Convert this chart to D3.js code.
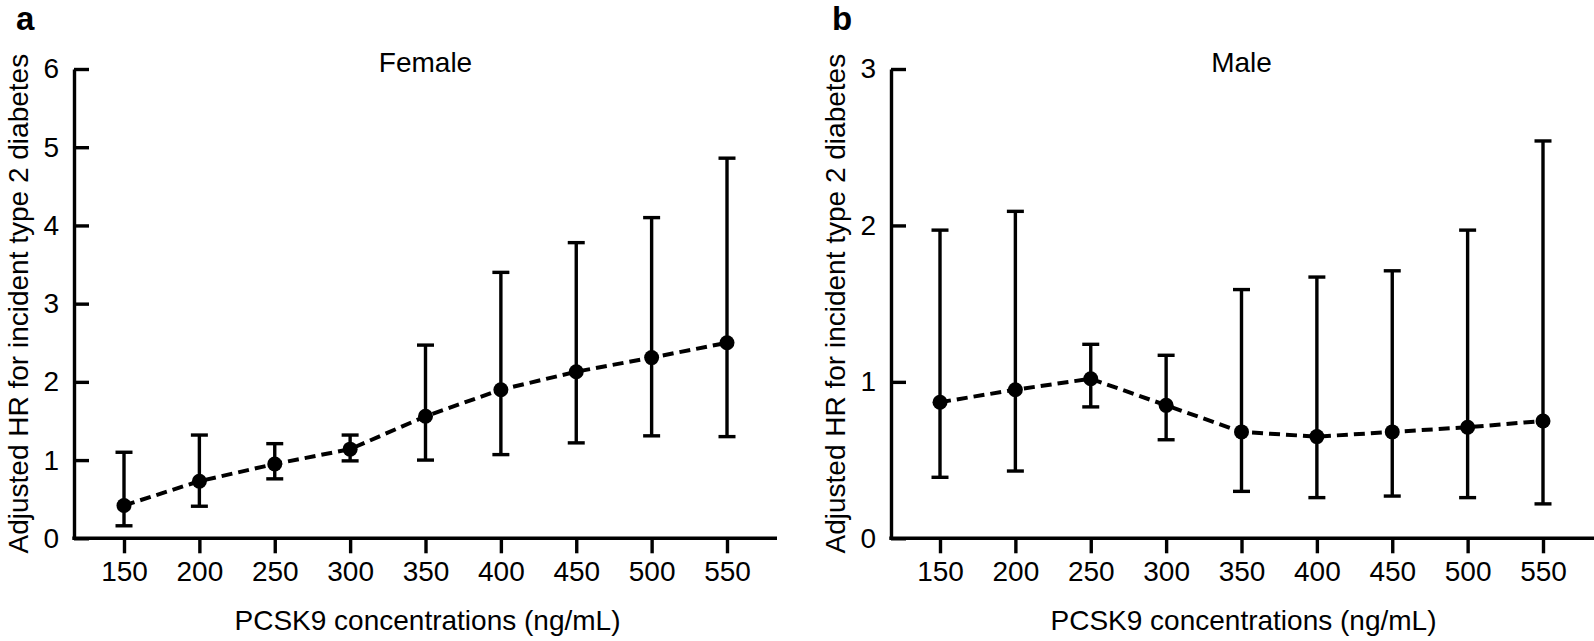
<!DOCTYPE html>
<html>
<head>
<meta charset="utf-8">
<script src="https://cdn.jsdelivr.net/npm/d3@7"></script>
<style>
  html, body { margin: 0; padding: 0; background: #fff; }
  svg { display: block; font-family: "Liberation Sans", Arial, Helvetica, sans-serif; }
</style>
</head>
<body>
<svg id="chart" width="1594" height="641"></svg>
<script>
// ---- data ----
const concentrations = [150, 200, 250, 300, 350, 400, 450, 500, 550];
const xTickLabels = ["150", "200", "250", "300", "350", "400", "450", "500", "550"];

const femaleHR    = [0.42, 0.73, 0.95, 1.14, 1.56, 1.90, 2.13, 2.31, 2.50];
const femaleLower = [0.16, 0.41, 0.76, 0.99, 1.00, 1.07, 1.22, 1.31, 1.30];
const femaleUpper = [1.10, 1.32, 1.21, 1.32, 2.47, 3.40, 3.78, 4.10, 4.86];
const femaleYTicks = [0, 1, 2, 3, 4, 5, 6];

const maleHR    = [0.87, 0.95, 1.02, 0.85, 0.68, 0.65, 0.68, 0.71, 0.75];
const maleLower = [0.39, 0.43, 0.84, 0.63, 0.30, 0.26, 0.27, 0.26, 0.22];
const maleUpper = [1.97, 2.09, 1.24, 1.17, 1.59, 1.67, 1.71, 1.97, 2.54];
const maleYTicks = [0, 1, 2, 3];

const panelLetters = ["a", "b"];
const panelTitles = ["Female", "Male"];
const yTitle = "Adjusted HR for incident type 2 diabetes";
const xTitle = "PCSK9 concentrations (ng/mL)";

// ---- drawing ----
const svg = d3.select("#chart");
const FONT = 28;
const SW = 3.4;

const panels = [
  { letter: panelLetters[0], title: panelTitles[0], hr: femaleHR, lo: femaleLower, hi: femaleUpper,
    yTicks: femaleYTicks, yMax: 6, axisX: 74, axisEnd: 777, xr: [124, 727], letterX: 16 },
  { letter: panelLetters[1], title: panelTitles[1], hr: maleHR, lo: maleLower, hi: maleUpper,
    yTicks: maleYTicks, yMax: 3, axisX: 891, axisEnd: 1600, xr: [940, 1543], letterX: 832 }
];

const yTop = 69, yBottom = 538.3;

panels.forEach(p => {
  const g = svg.append("g");
  const x = d3.scaleLinear().domain([150, 550]).range(p.xr);
  const y = d3.scaleLinear().domain([0, p.yMax]).range([yBottom, yTop]);

  // Y axis (ticks pointing inward)
  const yAxis = d3.axisLeft(y).tickValues(p.yTicks).tickFormat(d3.format("d"))
    .tickSizeInner(-15).tickSizeOuter(0).tickPadding(15);
  const yg = g.append("g").attr("transform", `translate(${p.axisX},0)`).call(yAxis);
  yg.select(".domain").attr("stroke", "#000").attr("stroke-width", SW);
  yg.selectAll(".tick line").attr("stroke", "#000").attr("stroke-width", SW);
  yg.selectAll(".tick text").attr("font-size", FONT).attr("fill", "#000")
    .attr("font-family", "Liberation Sans, Arial, sans-serif");

  // X axis
  const xAxis = d3.axisBottom(x).tickValues(concentrations)
    .tickFormat((d, i) => xTickLabels[i]).tickSizeInner(15).tickSizeOuter(0).tickPadding(8);
  const xg = g.append("g").attr("transform", `translate(0,${yBottom})`).call(xAxis);
  xg.select(".domain").remove();
  xg.selectAll(".tick line").attr("stroke", "#000").attr("stroke-width", SW);
  xg.selectAll(".tick text").attr("font-size", FONT).attr("fill", "#000")
    .attr("font-family", "Liberation Sans, Arial, sans-serif");
  g.append("line")
    .attr("x1", p.axisX - SW / 2).attr("x2", p.axisEnd)
    .attr("y1", yBottom).attr("y2", yBottom)
    .attr("stroke", "#000").attr("stroke-width", SW);

  // error bars
  const eb = g.append("g").attr("stroke", "#000").attr("stroke-width", SW).attr("fill", "none");
  concentrations.forEach((c, i) => {
    const cx = x(c);
    eb.append("line").attr("x1", cx).attr("x2", cx).attr("y1", y(p.lo[i])).attr("y2", y(p.hi[i]));
    eb.append("line").attr("x1", cx - 8.5).attr("x2", cx + 8.5).attr("y1", y(p.lo[i])).attr("y2", y(p.lo[i]));
    eb.append("line").attr("x1", cx - 8.5).attr("x2", cx + 8.5).attr("y1", y(p.hi[i])).attr("y2", y(p.hi[i]));
  });

  // dashed line
  const line = d3.line().x((d, i) => x(concentrations[i])).y(d => y(d));
  g.append("path").datum(p.hr).attr("d", line)
    .attr("fill", "none").attr("stroke", "#000").attr("stroke-width", 4)
    .attr("stroke-dasharray", "11,6");

  // points
  g.selectAll("circle.pt").data(p.hr).join("circle").attr("class", "pt")
    .attr("cx", (d, i) => x(concentrations[i])).attr("cy", d => y(d)).attr("r", 7.5)
    .attr("fill", "#000");

  // titles
  const mid = (p.xr[0] + p.xr[1]) / 2;
  g.append("text").attr("x", mid).attr("y", 72).attr("text-anchor", "middle")
    .attr("font-size", FONT).text(p.title);
  g.append("text").attr("x", mid + 2).attr("y", 630).attr("text-anchor", "middle")
    .attr("font-size", FONT).text(xTitle);
  g.append("text")
    .attr("transform", `translate(${p.axisX - 46},${(yTop + yBottom) / 2}) rotate(-90)`)
    .attr("text-anchor", "middle").attr("font-size", FONT).text(yTitle);
  g.append("text").attr("x", p.letterX).attr("y", 30)
    .attr("font-size", 33).attr("font-weight", "bold").text(p.letter);
});
</script>
</body>
</html>
